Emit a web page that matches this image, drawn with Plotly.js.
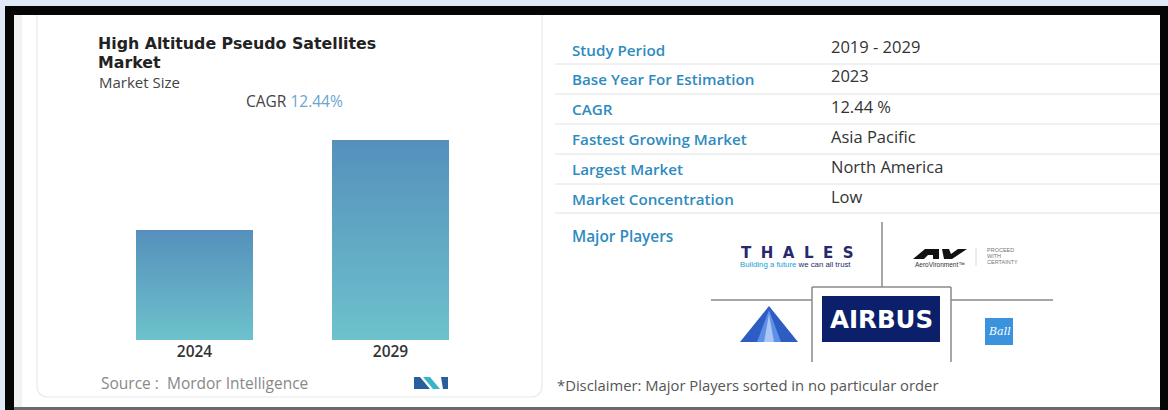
<!DOCTYPE html>
<html>
<head>
<meta charset="utf-8">
<script src="https://cdn.plot.ly/plotly-3.0.1.min.js"></script>
<style>
html,body{margin:0;padding:0;background:#fff;}
#chart{width:1168px;height:410px;}
</style>
</head>
<body>
<div id="chart"></div>
<script>
// ---- data ----
const years = ['2024', '2029'];
const marketSize = [55, 100];           // relative market size (bar heights)
const cagrText = '12.44%';
const tableLabels = ['Study Period', 'Base Year For Estimation', 'CAGR', 'Fastest Growing Market', 'Largest Market', 'Market Concentration'];
const tableValues = ['2019 - 2029', '2023', '12.44 %', 'Asia Pacific', 'North America', 'Low'];

// ---- helpers (layout geometry in page pixels) ----
const W = 1168, H = 410;
const X = x => x / W;
const Y = y => 1 - y / H;
const P = (x, y) => X(x).toFixed(5) + ',' + Y(y).toFixed(5);
const FONT = '"Open Sans", Lato, sans-serif';
const WIDE = '"DejaVu Sans", sans-serif';

function rect(x0, y0, x1, y1, fill, line) {
  return {type: 'rect', xref: 'paper', yref: 'paper', x0: X(x0), x1: X(x1), y0: Y(y1), y1: Y(y0),
    fillcolor: fill || 'rgba(0,0,0,0)', line: line || {width: 0}, layer: 'below'};
}
function seg(x0, y0, x1, y1, color, width) {
  return {type: 'line', xref: 'paper', yref: 'paper', x0: X(x0), x1: X(x1), y0: Y(y0), y1: Y(y1),
    line: {color: color, width: width || 1}, layer: 'above'};
}
function poly(pts, fill, layer) {
  return {type: 'path', xref: 'paper', yref: 'paper',
    path: 'M' + pts.map(p => P(p[0], p[1])).join(' L') + ' Z',
    fillcolor: fill, line: {width: 0}, layer: layer || 'above'};
}
function ann(x, y, text, size, color, opts) {
  opts = opts || {};
  return {xref: 'paper', yref: 'paper', x: X(x), y: Y(y), text: text, showarrow: false,
    xanchor: opts.xanchor || 'left', yanchor: opts.yanchor || 'middle', align: opts.align || 'left',
    font: {family: opts.family || FONT, size: size, color: color, weight: opts.weight || 400, style: opts.style || 'normal'}};
}

const shapes = [];
// outer frame
shapes.push(rect(0, 0, 1168, 410, '#dfe9f5'));
shapes.push(rect(5, 6, 1168, 410, '#050505'));
shapes.push(rect(14, 15, 1160, 407, '#ffffff'));
shapes.push(rect(14, 407, 1160, 410, '#6a6a6a'));
shapes.push(rect(14, 15, 22, 407, '#f1f1f1'));
// chart card with rounded bottom corners
shapes.push({type: 'path', xref: 'paper', yref: 'paper', layer: 'below',
  path: 'M' + P(37, 10) + ' L' + P(37, 385) + ' Q' + P(37, 397) + ' ' + P(49, 397) +
        ' L' + P(530, 397) + ' Q' + P(542, 397) + ' ' + P(542, 385) + ' L' + P(542, 10),
  fillcolor: 'rgba(0,0,0,0)', line: {color: '#e9e9e9', width: 1.2}});
shapes.push(rect(5, 6, 1168, 15, '#050505'));

// table separators
[64, 94, 124, 154, 184, 213].forEach(y => shapes.push(seg(555, y, 1160, y, '#e2e2e2', 1)));

// major players grid
const g = '#8a8a8a';
shapes.push(seg(882, 222, 882, 287, g, 1.5));
shapes.push(seg(711, 300, 812, 300, g, 1.5));
shapes.push(seg(951, 300, 1053, 300, g, 1.5));
shapes.push(seg(812, 287, 951, 287, g, 1.5));
shapes.push(seg(812, 287, 812, 362, g, 1.5));
shapes.push(seg(951, 287, 951, 362, g, 1.5));
// airbus logo
shapes.push(Object.assign(rect(822, 296, 940, 342, '#0b1f6b'), {layer: 'above'}));
// pyramid logo
shapes.push(poly([[740, 342], [769, 306], [798, 342]], '#2d5cc2'));
shapes.push(poly([[757, 342], [769, 310], [781, 342]], '#5f8fe6'));
shapes.push(poly([[764, 342], [769, 314], [774, 342]], '#a9c6f7'));
// ball logo
shapes.push(Object.assign(rect(985, 318, 1013, 345, '#3a93dc'), {layer: 'above'}));
// AV logo
shapes.push(poly([[913, 259], [925, 249], [939, 249], [939, 259]], '#111'));
shapes.push(poly([[924, 259], [928, 255], [933, 255], [933, 259]], '#fff'));
shapes.push(poly([[942, 249], [949, 249], [951, 254], [958, 249], [967, 249], [952, 259], [944, 259]], '#111'));
shapes.push(seg(976, 248, 976, 266, '#d8d8d8', 1));
// MN logo (source)
shapes.push(poly([[414, 377], [420, 377], [430, 389], [414, 389]], '#2a5f9e'));
shapes.push(poly([[423, 377], [430, 377], [440, 389], [433, 389]], '#38b6c9'));
shapes.push(poly([[441, 377], [448, 377], [448, 389], [443, 389]], '#2a5f9e'));

const annotations = [];
annotations.push(ann(96, 44, 'High Altitude Pseudo Satellites', 15.8, '#222', {weight: 700, family: WIDE}));
annotations.push(ann(96, 62.5, 'Market', 15.8, '#222', {weight: 700, family: WIDE}));
annotations.push(ann(97, 82, 'Market Size', 15, '#444'));
annotations.push(ann(294, 101, 'CAGR <span style="color:#6ba4cf">' + cagrText + '</span>', 15.5, '#444', {xanchor: 'center', align: 'center'}));
annotations.push(ann(99, 383, 'Source :  Mordor Intelligence', 15.5, '#888'));

const rowY = [50, 79, 109, 139, 169, 199];
tableLabels.forEach((t, i) => annotations.push(ann(570, rowY[i], t, 15.2, '#2e8bc0', {weight: 600})));
tableValues.forEach((t, i) => annotations.push(ann(829, rowY[i] - 3, t, 16.5, '#333')));

annotations.push(ann(570, 237, 'Major Players', 15.4, '#2e8bc0', {weight: 600}));
annotations.push(ann(739, 253, 'THALES', 15, '#26296e', {weight: 700, family: WIDE}));
annotations.push(ann(795, 264, '<span style="color:#14a0d8">Building a future</span> we can all trust', 7.8, '#26296e', {xanchor: 'center', align: 'center', family: '"Liberation Sans", sans-serif'}));
annotations.push(ann(913, 264, 'AeroVironment™', 6.5, '#333', {family: '"Liberation Sans", sans-serif'}));
annotations.push(ann(985, 250, 'PROCEED', 5.5, '#777', {family: '"Liberation Sans", sans-serif'}));
annotations.push(ann(985, 256, 'WITH', 5.5, '#777', {family: '"Liberation Sans", sans-serif'}));
annotations.push(ann(985, 262, 'CERTAINTY', 5.5, '#777', {family: '"Liberation Sans", sans-serif'}));
annotations.push(ann(881, 319, 'AIRBUS', 24.5, '#ffffff', {weight: 700, xanchor: 'center', align: 'center', family: WIDE}));
annotations.push(ann(999, 331, 'Ball', 11, '#ffffff', {xanchor: 'center', align: 'center', style: 'italic', family: '"DejaVu Serif", serif'}));
annotations.push(ann(555, 385, '*Disclaimer: Major Players sorted in no particular order', 14.8, '#555'));

const trace = {
  type: 'bar', x: years, y: marketSize,
  marker: {color: '#5fa6c4', line: {width: 0}},
  hoverinfo: 'skip'
};

const layout = {
  width: W, height: H, margin: {l: 0, r: 0, t: 0, b: 0, pad: 0},
  paper_bgcolor: '#ffffff', plot_bgcolor: 'rgba(0,0,0,0)',
  showlegend: false, bargap: 0.403,
  xaxis: {type: 'category', domain: [X(96.5), X(488.5)], range: [-0.5, 1.5], showgrid: false, zeroline: false,
    showline: false, ticks: '', fixedrange: true,
    tickfont: {family: FONT, size: 15.5, color: '#333', weight: 600}},
  yaxis: {range: [0, 100], domain: [Y(340), Y(140)], visible: false, fixedrange: true},
  shapes: shapes, annotations: annotations
};

Plotly.newPlot('chart', [trace], layout, {displayModeBar: false, staticPlot: true}).then(gd => {
  const svg = gd.querySelector('.main-svg');
  let defs = svg.querySelector('defs');
  const ns = 'http://www.w3.org/2000/svg';
  const lg = document.createElementNS(ns, 'linearGradient');
  lg.setAttribute('id', 'barGrad');
  lg.setAttribute('x1', '0'); lg.setAttribute('y1', '0'); lg.setAttribute('x2', '0'); lg.setAttribute('y2', '1');
  [['0', '#5590bc'], ['1', '#6dc2cc']].forEach(s => {
    const st = document.createElementNS(ns, 'stop');
    st.setAttribute('offset', s[0]); st.setAttribute('stop-color', s[1]);
    lg.appendChild(st);
  });
  defs.appendChild(lg);
  gd.querySelectorAll('.barlayer .point path').forEach(p => { p.style.fill = 'url(#barGrad)'; });
  gd.querySelectorAll('.annotation-text').forEach(t => {
    if (t.textContent === 'THALES') t.style.letterSpacing = '9.5px';
  });
});
</script>
</body>
</html>
